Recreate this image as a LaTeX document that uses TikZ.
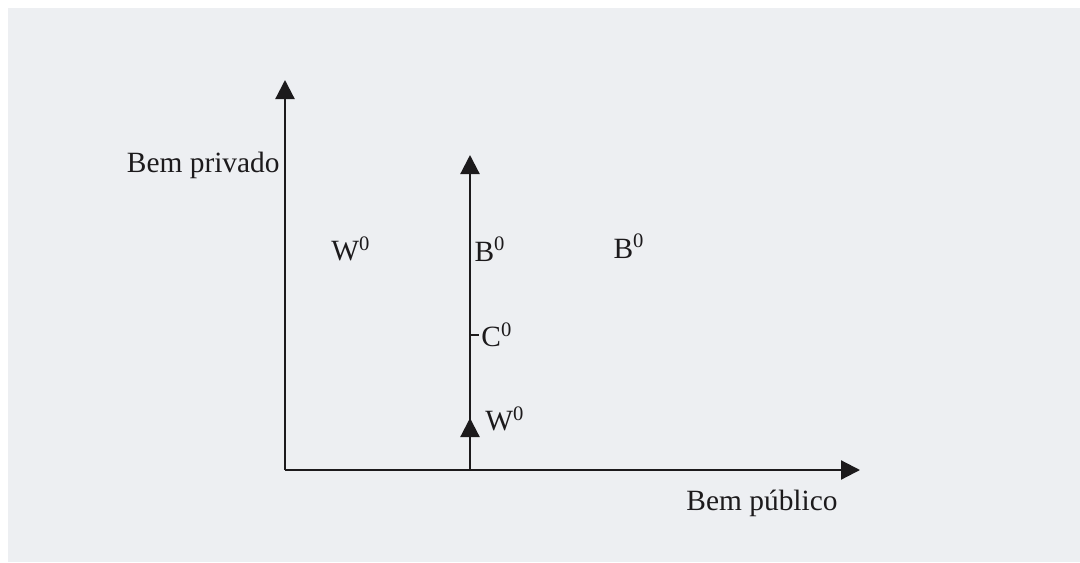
\documentclass[tikz,border=0pt]{standalone}
\usepackage{fontspec}
\setmainfont{Liberation Serif}
\usetikzlibrary{arrows.meta,positioning}
\definecolor{paper}{RGB}{237,239,242}
\definecolor{ink}{RGB}{28,26,28}
\tikzset{axis/.style={draw=ink, line width=1.1pt, -{Triangle[length=9.5pt,width=9.5pt]}}, lbl/.style={text=ink, font=\fontsize{14.7}{17}\selectfont, inner sep=0pt}, tick/.style={draw=ink, line width=1pt}}

\begin{document}
\begin{tikzpicture}[x=0.5pt,y=-0.5pt]
\fill[white] (0,0) rectangle (1080,562);
\fill[paper] (8,8) rectangle (1080,562);
\coordinate (origin) at (285,470); \coordinate (ytop) at (285,80); \coordinate (xend) at (860,470);
\coordinate (base) at (470,470); \coordinate (btop) at (470,155); \coordinate (wmid) at (470,418); \coordinate (cpt) at (470,335);
\draw[axis] (origin)--(ytop); \draw[axis] (origin)--(xend); \draw[axis] (base)--(btop); \draw[axis] (base)--(wmid);
\draw[tick] (cpt)--++(9,0);
\node[lbl,left=2.5pt of {(285,165)}] (privado) {Bem privado};
\node[lbl] (publico) at (762,503) {Bem público};
\node[lbl] (wleft) at (351,249) {W\textsuperscript{0}};
\node[lbl] (bmid) at (490,249) {B\textsuperscript{0}};
\node[lbl] (bright) at (629,246) {B\textsuperscript{0}};
\node[lbl,right=5.5pt of cpt] (czero) {C\textsuperscript{0}};
\node[lbl] (wlow) at (505,419) {W\textsuperscript{0}};
\end{tikzpicture}
\end{document}
